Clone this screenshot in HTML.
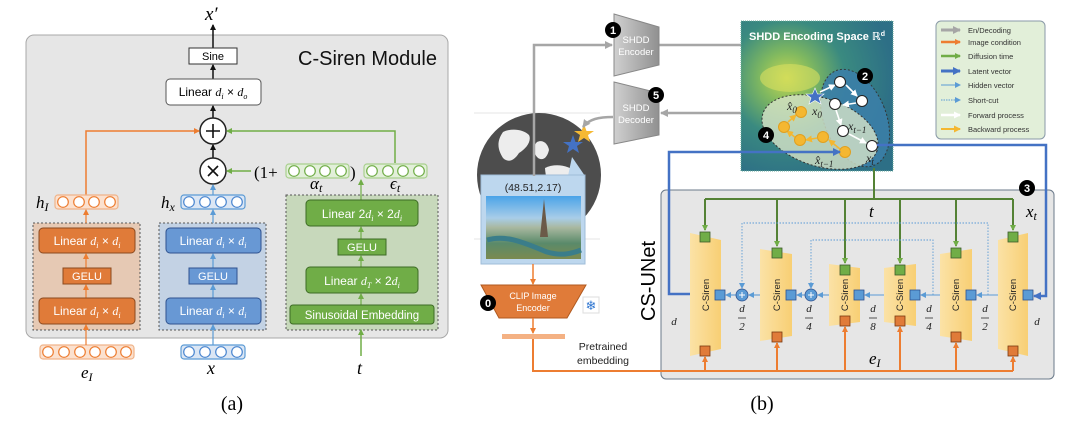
<!DOCTYPE html>
<html><head><meta charset="utf-8"><style>
html,body{margin:0;padding:0;background:#fff;}
svg{display:block;}
text{font-family:"Liberation Sans","DejaVu Sans",sans-serif;}
text.m,tspan.m{font-family:"Liberation Serif",serif;font-style:italic;}
text.s{font-family:"Liberation Serif",serif;}
.w{fill:#fff;}
</style></head><body>
<svg width="1080" height="422" viewBox="0 0 1080 422" xmlns="http://www.w3.org/2000/svg">
<defs>
<marker id="ak" markerWidth="6" markerHeight="6" refX="5" refY="3" orient="auto" markerUnits="userSpaceOnUse"><path d="M0,0L6,3L0,6z" fill="#111"/></marker>
<marker id="ao" markerWidth="6" markerHeight="6" refX="5" refY="3" orient="auto" markerUnits="userSpaceOnUse"><path d="M0,0L6,3L0,6z" fill="#ed7d31"/></marker>
<marker id="ag" markerWidth="6" markerHeight="6" refX="5" refY="3" orient="auto" markerUnits="userSpaceOnUse"><path d="M0,0L6,3L0,6z" fill="#70ad47"/></marker>
<marker id="ab" markerWidth="6" markerHeight="6" refX="5" refY="3" orient="auto" markerUnits="userSpaceOnUse"><path d="M0,0L6,3L0,6z" fill="#5b9bd5"/></marker>
<marker id="aB" markerWidth="8" markerHeight="8" refX="7" refY="4" orient="auto" markerUnits="userSpaceOnUse"><path d="M0,0L8,4L0,8z" fill="#4472c4"/></marker>
<marker id="ay" markerWidth="7" markerHeight="7" refX="6" refY="3.5" orient="auto" markerUnits="userSpaceOnUse"><path d="M0,0L7,3.5L0,7z" fill="#f4b731"/></marker>
<marker id="aw" markerWidth="7" markerHeight="7" refX="6" refY="3.5" orient="auto" markerUnits="userSpaceOnUse"><path d="M0,0L7,3.5L0,7z" fill="#fff"/></marker>
<marker id="aG" markerWidth="8" markerHeight="8" refX="7" refY="4" orient="auto" markerUnits="userSpaceOnUse"><path d="M0,0L8,4L0,8z" fill="#a6a6a6"/></marker>
<radialGradient id="hm" cx="0.3" cy="0.38" r="0.7">
<stop offset="0" stop-color="#c8d850"/><stop offset="0.25" stop-color="#7fb860"/><stop offset="0.55" stop-color="#3a8a80"/><stop offset="1" stop-color="#2d6f86"/></radialGradient>
<linearGradient id="tr" x1="0" x2="1"><stop offset="0" stop-color="#fbe2a6"/><stop offset="1" stop-color="#f8cf74"/></linearGradient>
<linearGradient id="gr" x1="0" x2="1"><stop offset="0" stop-color="#d0d0d0"/><stop offset="1" stop-color="#909090"/></linearGradient>
<linearGradient id="ph" x1="0" y1="0" x2="0" y2="1"><stop offset="0" stop-color="#4aa3e8"/><stop offset="0.35" stop-color="#a8cde8"/><stop offset="0.5" stop-color="#a9b8a0"/><stop offset="0.75" stop-color="#5a8a6a"/><stop offset="1" stop-color="#7b8a50"/></linearGradient>
</defs>

<!-- ============ (a) ============ -->
<rect x="26" y="35" width="422" height="303" rx="8" fill="#e6e6e6" stroke="#a8a8a8" stroke-width="1"/>
<text x="298" y="65" font-size="20" fill="#111">C-Siren Module</text>
<text x="205" y="20" font-size="19" class="m">x′</text>
<line x1="213" y1="48" x2="213" y2="25" stroke="#111" stroke-width="1.5" marker-end="url(#ak)"/>
<rect x="189" y="48" width="48" height="16" fill="#fff" stroke="#333"/>
<text x="213" y="60" font-size="11" text-anchor="middle">Sine</text>
<line x1="213" y1="79" x2="213" y2="65" stroke="#111" stroke-width="1.5" marker-end="url(#ak)"/>
<rect x="166" y="79" width="95" height="26" rx="4" fill="#fff" stroke="#555"/>
<text x="213" y="96" font-size="12" text-anchor="middle">Linear <tspan class="m">d</tspan><tspan class="m" font-size="8" dy="3">i</tspan><tspan dy="-3"> × </tspan><tspan class="m">d</tspan><tspan class="m" font-size="8" dy="3">o</tspan></text>
<line x1="213" y1="118" x2="213" y2="106" stroke="#111" stroke-width="1.5" marker-end="url(#ak)"/>
<circle cx="213" cy="131" r="13" fill="#fff" stroke="#222" stroke-width="1.5"/>
<path d="M206,131h14M213,124v14" stroke="#111" stroke-width="1.6"/>
<line x1="213" y1="158" x2="213" y2="145" stroke="#111" stroke-width="1.5" marker-end="url(#ak)"/>
<circle cx="213" cy="171" r="13" fill="#fff" stroke="#222" stroke-width="1.5"/>
<path d="M208,166l10,10M218,166l-10,10" stroke="#111" stroke-width="1.6"/>
<line x1="213" y1="195" x2="213" y2="185" stroke="#5b9bd5" stroke-width="1.2" marker-end="url(#ab)"/>
<line x1="251" y1="171" x2="227" y2="171" stroke="#70ad47" stroke-width="1.5" marker-end="url(#ag)"/>
<text x="254" y="178" font-size="17" class="s">(1+</text>
<text x="350" y="178" font-size="17" class="s">)</text>
<polyline points="86,195 86,131 199,131" fill="none" stroke="#ed7d31" stroke-width="1.5" marker-end="url(#ao)"/>
<polyline points="395,163 395,131 227,131" fill="none" stroke="#70ad47" stroke-width="1.5" marker-end="url(#ag)"/>
<g stroke-width="1.2">
<rect x="286" y="164" width="63" height="14" rx="3" fill="#e2efd9" stroke="#a9d08e"/>
<g fill="#fff" stroke="#70ad47"><circle cx="294" cy="171" r="5.3"/><circle cx="310" cy="171" r="5.3"/><circle cx="325" cy="171" r="5.3"/><circle cx="341" cy="171" r="5.3"/></g>
<rect x="364" y="164" width="63" height="14" rx="3" fill="#e2efd9" stroke="#a9d08e"/>
<g fill="#fff" stroke="#70ad47"><circle cx="372" cy="171" r="5.3"/><circle cx="388" cy="171" r="5.3"/><circle cx="403" cy="171" r="5.3"/><circle cx="419" cy="171" r="5.3"/></g>
<rect x="55" y="195" width="63" height="14" rx="3" fill="#fbe1cf" stroke="#f0b48a"/>
<g fill="#fff" stroke="#ed7d31"><circle cx="63" cy="202" r="5.3"/><circle cx="79" cy="202" r="5.3"/><circle cx="94" cy="202" r="5.3"/><circle cx="110" cy="202" r="5.3"/></g>
<rect x="181" y="195" width="64" height="14" rx="3" fill="#dbe6f4" stroke="#5b9bd5"/>
<g fill="#fff" stroke="#4a86d0"><circle cx="189" cy="202" r="5.3"/><circle cx="205" cy="202" r="5.3"/><circle cx="221" cy="202" r="5.3"/><circle cx="237" cy="202" r="5.3"/></g>
<rect x="40" y="345" width="94" height="14" rx="3" fill="#fbe1cf" stroke="#f0b48a"/>
<g fill="#fff" stroke="#ed7d31"><circle cx="48" cy="352" r="5.3"/><circle cx="64" cy="352" r="5.3"/><circle cx="80" cy="352" r="5.3"/><circle cx="95" cy="352" r="5.3"/><circle cx="111" cy="352" r="5.3"/><circle cx="126" cy="352" r="5.3"/></g>
<rect x="181" y="345" width="64" height="14" rx="3" fill="#dbe6f4" stroke="#5b9bd5"/>
<g fill="#fff" stroke="#4a86d0"><circle cx="189" cy="352" r="5.3"/><circle cx="205" cy="352" r="5.3"/><circle cx="221" cy="352" r="5.3"/><circle cx="237" cy="352" r="5.3"/></g>
</g>
<text x="310" y="189" font-size="17" class="m">α<tspan font-size="12" dy="3">t</tspan></text>
<text x="390" y="189" font-size="17" class="m">ϵ<tspan font-size="12" dy="3">t</tspan></text>
<text x="36" y="208" font-size="17" class="m">h<tspan font-size="12" dy="3">I</tspan></text>
<text x="161" y="208" font-size="17" class="m">h<tspan font-size="12" dy="3">x</tspan></text>
<rect x="33" y="223" width="107" height="107" fill="#e6c9b4" stroke="#555" stroke-dasharray="2,2"/>
<rect x="159" y="223" width="107" height="107" fill="#c3d2e4" stroke="#555" stroke-dasharray="2,2"/>
<rect x="286" y="195" width="152" height="135" fill="#c7d8bb" stroke="#555" stroke-dasharray="2,2"/>
<g stroke-width="1.2">
<line x1="86" y1="223" x2="86" y2="210" stroke="#ed7d31" marker-end="url(#ao)"/>
<line x1="86" y1="268" x2="86" y2="254" stroke="#ed7d31" marker-end="url(#ao)"/>
<line x1="86" y1="298" x2="86" y2="285" stroke="#ed7d31" marker-end="url(#ao)"/>
<line x1="86" y1="345" x2="86" y2="325" stroke="#ed7d31" marker-end="url(#ao)"/>
<line x1="213" y1="223" x2="213" y2="210" stroke="#5b9bd5" marker-end="url(#ab)"/>
<line x1="213" y1="268" x2="213" y2="254" stroke="#5b9bd5" marker-end="url(#ab)"/>
<line x1="213" y1="298" x2="213" y2="285" stroke="#5b9bd5" marker-end="url(#ab)"/>
<line x1="213" y1="345" x2="213" y2="325" stroke="#5b9bd5" marker-end="url(#ab)"/>
<line x1="361" y1="200" x2="361" y2="180" stroke="#70ad47" marker-end="url(#ag)"/>
<line x1="361" y1="239" x2="361" y2="227" stroke="#70ad47" marker-end="url(#ag)"/>
<line x1="361" y1="267" x2="361" y2="256" stroke="#70ad47" marker-end="url(#ag)"/>
<line x1="361" y1="305" x2="361" y2="294" stroke="#70ad47" marker-end="url(#ag)"/>
<line x1="361" y1="356" x2="361" y2="330" stroke="#70ad47" stroke-width="1.5" marker-end="url(#ag)"/>
</g>
<rect x="39" y="228" width="96" height="25" rx="4" fill="#e07b39" stroke="#8b4a20"/>
<text x="87" y="245" font-size="12" text-anchor="middle" class="w">Linear <tspan class="m">d</tspan><tspan class="m" font-size="8" dy="3">i</tspan><tspan dy="-3"> × </tspan><tspan class="m">d</tspan><tspan class="m" font-size="8" dy="3">i</tspan></text>
<rect x="63" y="268" width="48" height="16" fill="#e07b39" stroke="#8b4a20"/>
<text x="87" y="280" font-size="11" text-anchor="middle" class="w">GELU</text>
<rect x="39" y="298" width="96" height="26" rx="4" fill="#e07b39" stroke="#8b4a20"/>
<text x="87" y="315" font-size="12" text-anchor="middle" class="w">Linear <tspan class="m">d</tspan><tspan class="m" font-size="8" dy="3">I</tspan><tspan dy="-3"> × </tspan><tspan class="m">d</tspan><tspan class="m" font-size="8" dy="3">i</tspan></text>
<rect x="166" y="228" width="95" height="25" rx="4" fill="#6898d4" stroke="#2f528f"/>
<text x="213" y="245" font-size="12" text-anchor="middle" class="w">Linear <tspan class="m">d</tspan><tspan class="m" font-size="8" dy="3">i</tspan><tspan dy="-3"> × </tspan><tspan class="m">d</tspan><tspan class="m" font-size="8" dy="3">i</tspan></text>
<rect x="189" y="268" width="48" height="16" fill="#6898d4" stroke="#2f528f"/>
<text x="213" y="280" font-size="11" text-anchor="middle" class="w">GELU</text>
<rect x="166" y="298" width="95" height="26" rx="4" fill="#6898d4" stroke="#2f528f"/>
<text x="213" y="315" font-size="12" text-anchor="middle" class="w">Linear <tspan class="m">d</tspan><tspan class="m" font-size="8" dy="3">i</tspan><tspan dy="-3"> × </tspan><tspan class="m">d</tspan><tspan class="m" font-size="8" dy="3">i</tspan></text>
<rect x="306" y="200" width="112" height="26" rx="4" fill="#70ad47" stroke="#3d6b25"/>
<text x="362" y="218" font-size="12" text-anchor="middle" class="w">Linear 2<tspan class="m">d</tspan><tspan class="m" font-size="8" dy="3">i</tspan><tspan dy="-3"> × 2</tspan><tspan class="m">d</tspan><tspan class="m" font-size="8" dy="3">i</tspan></text>
<rect x="338" y="239" width="48" height="16" fill="#70ad47" stroke="#3d6b25"/>
<text x="362" y="251" font-size="11" text-anchor="middle" class="w">GELU</text>
<rect x="306" y="267" width="112" height="26" rx="4" fill="#70ad47" stroke="#3d6b25"/>
<text x="362" y="285" font-size="12" text-anchor="middle" class="w">Linear <tspan class="m">d</tspan><tspan class="m" font-size="8" dy="3">T</tspan><tspan dy="-3"> × 2</tspan><tspan class="m">d</tspan><tspan class="m" font-size="8" dy="3">i</tspan></text>
<rect x="290" y="305" width="144" height="19" rx="3" fill="#70ad47" stroke="#3d6b25"/>
<text x="362" y="319" font-size="11.5" text-anchor="middle" class="w">Sinusoidal Embedding</text>
<text x="81" y="378" font-size="17" class="m">e<tspan font-size="12" dy="3">I</tspan></text>
<text x="207" y="374" font-size="18" class="m">x</text>
<text x="357" y="374" font-size="18" class="m">t</text>
<text x="232" y="410" font-size="20" text-anchor="middle" class="s">(a)</text>

<!-- ============ (b) ============ -->
<line x1="474" y1="113" x2="600" y2="113" stroke="#ddd" stroke-width="0.8"/>
<line x1="474" y1="239" x2="600" y2="239" stroke="#ddd" stroke-width="0.8"/>
<circle cx="539" cy="175" r="62" fill="#4d4d4d"/>
<path d="M503,132c8,-4 20,-3 26,3c3,6 -3,14 -10,18c-5,8 -11,10 -16,5c-5,-8 -7,-16 0,-26z" fill="#fff" opacity="0.9"/>
<path d="M537,142c6,-3 11,2 12,8c-2,8 -6,11 -11,8c-5,-5 -6,-11 -1,-16z" fill="#fff" opacity="0.9"/>
<path d="M483,178c6,-3 11,8 8,18c-5,5 -10,0 -10,-8z" fill="#fff" opacity="0.9"/>
<path d="M545,168c10,-5 24,-3 32,5c5,8 0,19 -10,24c-11,-2 -21,-10 -22,-29z" fill="#fff" opacity="0.9"/>
<polygon points="584,124 586.5,131 594,131 588,135 590,142 584,138 578,142 580,135 574,131 581.5,131" fill="#f5b933"/>
<polygon points="573,135 575.5,142 583,142 577,146 579,153 573,149 567,153 569,146 563,142 570.5,142" fill="#4472c4"/>
<polygon points="568,176 572,157 585,176" fill="#bdd7ee"/>
<rect x="481" y="175" width="104" height="89" fill="#bdd7ee" stroke="#9fbcd8"/>
<text x="533" y="191" font-size="10.5" text-anchor="middle" fill="#222">(48.51,2.17)</text>
<rect x="486" y="196" width="95" height="63" fill="url(#ph)"/>
<path d="M487,240c20,-6 40,4 60,12c14,4 24,2 34,-2" stroke="#3a7d8a" stroke-width="5" fill="none"/>
<path d="M544,199l-4,38h8z" fill="#6b5a48"/>
<polyline points="534,176 534,45 612,45" fill="none" stroke="#a6a6a6" stroke-width="2.5" marker-end="url(#aG)"/>
<polyline points="659,45 816,45 816,90" fill="none" stroke="#a6a6a6" stroke-width="2.5" marker-end="url(#aG)"/>
<line x1="800" y1="113" x2="661" y2="113" stroke="#a6a6a6" stroke-width="2.5" marker-end="url(#aG)"/>
<path d="M613,117c-14,0 -24,2 -30,10" fill="none" stroke="#a6a6a6" stroke-width="2.5" marker-end="url(#aG)"/>
<polygon points="614,14 659,27 659,65 614,76" fill="url(#gr)" stroke="#888"/>
<text x="636" y="43" font-size="9.5" text-anchor="middle" class="w">SHDD</text>
<text x="636" y="55" font-size="9.5" text-anchor="middle" class="w">Encoder</text>
<polygon points="614,82 659,93 659,135 614,144" fill="url(#gr)" stroke="#888"/>
<text x="636" y="111" font-size="9.5" text-anchor="middle" class="w">SHDD</text>
<text x="636" y="123" font-size="9.5" text-anchor="middle" class="w">Decoder</text>
<circle cx="613" cy="30" r="8" fill="#000"/><text x="613" y="34" font-size="11" font-weight="bold" text-anchor="middle" class="w">1</text>
<circle cx="656" cy="95" r="8" fill="#000"/><text x="656" y="99" font-size="11" font-weight="bold" text-anchor="middle" class="w">5</text>
<rect x="741" y="21" width="152" height="150" fill="url(#hm)" stroke="#6a9" stroke-dasharray="1,1"/>
<ellipse cx="790" cy="78" rx="30" ry="14" fill="#d8e060" opacity="0.6"/>
<text x="817" y="40" font-size="11" font-weight="bold" text-anchor="middle" class="w">SHDD Encoding Space ℝ<tspan font-size="7" dy="-4">d</tspan></text>
<ellipse cx="855" cy="118" rx="31" ry="51" transform="rotate(-22 855 118)" fill="#3b7fa8" stroke="#333" stroke-dasharray="2,2" opacity="0.9"/>
<ellipse cx="820" cy="132" rx="60" ry="34" transform="rotate(18 820 132)" fill="#d7e4c8" fill-opacity="0.8" stroke="#333" stroke-dasharray="2,2"/>
<g stroke="#fff" stroke-width="1.6">
<line x1="820" y1="92" x2="835" y2="85" marker-end="url(#aw)"/>
<line x1="846" y1="85" x2="857" y2="96" marker-end="url(#aw)"/>
<line x1="856" y1="103" x2="843" y2="105" marker-end="url(#aw)"/>
<line x1="836" y1="110" x2="841" y2="125" marker-end="url(#aw)"/>
<line x1="849" y1="134" x2="866" y2="143" marker-end="url(#aw)"/>
</g>
<g stroke="#f4b731" stroke-width="1.6">
<line x1="840" y1="149" x2="829" y2="140" marker-end="url(#ay)"/>
<line x1="817" y1="138" x2="806" y2="140" marker-end="url(#ay)"/>
<line x1="796" y1="138" x2="787" y2="131" marker-end="url(#ay)"/>
<line x1="788" y1="122" x2="796" y2="115" marker-end="url(#ay)"/>
</g>
<g fill="#fff" stroke="#222" stroke-width="1"><circle cx="840" cy="82" r="5.5"/><circle cx="862" cy="101" r="5.5"/><circle cx="835" cy="104" r="5.5"/><circle cx="843" cy="131" r="5.5"/><circle cx="872" cy="146" r="5.5"/></g>
<g fill="#f4b731" stroke="#e0a020"><circle cx="801" cy="112" r="5.5"/><circle cx="784" cy="127" r="5.5"/><circle cx="800" cy="140" r="5.5"/><circle cx="823" cy="137" r="5.5"/><circle cx="845" cy="152" r="5.5"/></g>
<polygon points="815,88 817.5,94 824,94 819,98 821,104 815,100.5 809,104 811,98 806,94 812.5,94" fill="#4472c4" stroke="#fff" stroke-width="0.6"/>
<text x="787" y="110" font-size="12" class="m" fill="#222">x̂<tspan font-size="9" dy="3">0</tspan></text>
<text x="812" y="115" font-size="12" class="m" fill="#222">x<tspan font-size="9" dy="3">0</tspan></text>
<text x="848" y="130" font-size="12" class="m" fill="#222">x<tspan font-size="9" dy="3">t−1</tspan></text>
<text x="866" y="162" font-size="12" class="m" fill="#222">x<tspan font-size="9" dy="3">t</tspan></text>
<text x="815" y="164" font-size="12" class="m" fill="#222">x̂<tspan font-size="9" dy="3">t−1</tspan></text>
<circle cx="865" cy="76" r="8" fill="#000"/><text x="865" y="80" font-size="11" font-weight="bold" text-anchor="middle" class="w">2</text>
<circle cx="766" cy="135" r="8" fill="#000"/><text x="766" y="139" font-size="11" font-weight="bold" text-anchor="middle" class="w">4</text>
<rect x="936" y="21" width="109" height="118" rx="5" fill="#e2efd9" stroke="#8a9aa8"/>
<g stroke-width="2">
<line x1="941" y1="30" x2="960" y2="30" stroke="#a6a6a6" stroke-width="3" marker-end="url(#aG)"/>
<line x1="941" y1="42" x2="960" y2="42" stroke="#ed7d31" stroke-width="2.5" marker-end="url(#ao)"/>
<line x1="941" y1="56" x2="960" y2="56" stroke="#70ad47" stroke-width="2.5" marker-end="url(#ag)"/>
<line x1="941" y1="71" x2="960" y2="71" stroke="#4472c4" stroke-width="3" marker-end="url(#aB)"/>
<line x1="941" y1="85" x2="960" y2="85" stroke="#5b9bd5" stroke-width="1" marker-end="url(#ab)"/>
<line x1="941" y1="100" x2="960" y2="100" stroke="#5b9bd5" stroke-width="1" stroke-dasharray="1.5,1" marker-end="url(#ab)"/>
<line x1="941" y1="115" x2="960" y2="115" stroke="#fff" stroke-width="2.5" marker-end="url(#aw)"/>
<line x1="941" y1="129" x2="960" y2="129" stroke="#f4b731" stroke-width="2" marker-end="url(#ay)"/>
</g>
<g font-size="7.5" fill="#333">
<text x="968" y="33">En/Decoding</text><text x="968" y="45">Image condition</text><text x="968" y="59">Diffusion time</text><text x="968" y="74">Latent vector</text><text x="968" y="88">Hidden vector</text><text x="968" y="103">Short-cut</text><text x="968" y="118">Forward process</text><text x="968" y="132">Backward process</text>
</g>
<line x1="533" y1="264" x2="533" y2="284" stroke="#ed7d31" stroke-width="1.5" marker-end="url(#ao)"/>
<polygon points="481,285 586,285 567,318 499,318" fill="#e07b39" stroke="#b05a20"/>
<text x="533" y="299" font-size="9" text-anchor="middle" class="w">CLIP Image</text>
<text x="533" y="311" font-size="9" text-anchor="middle" class="w">Encoder</text>
<circle cx="488" cy="303" r="8" fill="#000"/><text x="488" y="307" font-size="11" font-weight="bold" text-anchor="middle" class="w">0</text>
<rect x="583" y="297" width="16" height="16" fill="#fff" stroke="#ddd"/>
<text x="591" y="310" font-size="13" text-anchor="middle" fill="#2e75d0">❄</text>
<line x1="533" y1="318" x2="533" y2="333" stroke="#ed7d31" stroke-width="1.5" marker-end="url(#ao)"/>
<rect x="502" y="334" width="63" height="5" fill="#f4b183"/>
<text x="603" y="350" font-size="10.5" text-anchor="middle" fill="#222">Pretrained</text>
<text x="603" y="364" font-size="10.5" text-anchor="middle" fill="#222">embedding</text>
<rect x="661" y="190" width="393" height="189" rx="5" fill="#e6e6e6" stroke="#6b7a8a"/>
<text x="0" y="0" font-size="20" text-anchor="middle" transform="translate(655,281) rotate(-90)">CS-UNet</text>
<circle cx="1027" cy="188" r="8" fill="#000"/><text x="1027" y="192" font-size="11" font-weight="bold" text-anchor="middle" class="w">3</text>
<polyline points="877,145 1046,145 1046,296 1034,296" fill="none" stroke="#4472c4" stroke-width="2.5" marker-end="url(#aB)"/>
<polyline points="690,294 669,294 669,152 840,152" fill="none" stroke="#4472c4" stroke-width="2.5" marker-end="url(#aB)"/>
<line x1="874" y1="168" x2="874" y2="199" stroke="#548235" stroke-width="2"/>
<line x1="705" y1="199" x2="1013" y2="199" stroke="#548235" stroke-width="2"/>
<g stroke="#548235" stroke-width="2">
<line x1="705" y1="199" x2="705" y2="230" marker-end="url(#ag)"/>
<line x1="777" y1="199" x2="777" y2="246" marker-end="url(#ag)"/>
<line x1="845" y1="199" x2="845" y2="263" marker-end="url(#ag)"/>
<line x1="900" y1="199" x2="900" y2="263" marker-end="url(#ag)"/>
<line x1="956" y1="199" x2="956" y2="246" marker-end="url(#ag)"/>
<line x1="1013" y1="199" x2="1013" y2="230" marker-end="url(#ag)"/>
</g>
<polyline points="988,295 988,223 742,223 742,288" fill="none" stroke="#5b9bd5" stroke-width="0.9" stroke-dasharray="1.5,1.5" marker-end="url(#ab)"/>
<polyline points="933,295 933,240 811,240 811,288" fill="none" stroke="#5b9bd5" stroke-width="0.9" stroke-dasharray="1.5,1.5" marker-end="url(#ab)"/>
<polygon points="690,233 721,240 721,349 690,356" fill="url(#tr)"/>
<polygon points="760,249 792,254 792,336 760,341" fill="url(#tr)"/>
<polygon points="829,264 860,268 860,322 829,326" fill="url(#tr)"/>
<polygon points="884,268 916,264 916,326 884,322" fill="url(#tr)"/>
<polygon points="940,254 972,249 972,341 940,336" fill="url(#tr)"/>
<polygon points="998,240 1028,233 1028,356 998,349" fill="url(#tr)"/>
<g font-size="9.5" fill="#222" text-anchor="middle">
<text transform="translate(709,295) rotate(-90)">C-Siren</text>
<text transform="translate(780,295) rotate(-90)">C-Siren</text>
<text transform="translate(848,295) rotate(-90)">C-Siren</text>
<text transform="translate(903,295) rotate(-90)">C-Siren</text>
<text transform="translate(959,295) rotate(-90)">C-Siren</text>
<text transform="translate(1016,295) rotate(-90)">C-Siren</text>
</g>
<g stroke="#5b9bd5" stroke-width="1.1">
<line x1="998" y1="295" x2="977" y2="295" marker-end="url(#ab)"/>
<line x1="940" y1="295" x2="921" y2="295" marker-end="url(#ab)"/>
<line x1="884" y1="295" x2="865" y2="295" marker-end="url(#ab)"/>
<line x1="829" y1="295" x2="818" y2="295" marker-end="url(#ab)"/>
<line x1="805" y1="295" x2="797" y2="295" marker-end="url(#ab)"/>
<line x1="760" y1="295" x2="749" y2="295" marker-end="url(#ab)"/>
<line x1="736" y1="295" x2="726" y2="295" marker-end="url(#ab)"/>
</g>
<g fill="#5b9bd5" stroke="#2f528f" stroke-width="0.8">
<circle cx="742" cy="295" r="6"/><circle cx="811" cy="295" r="6"/>
</g>
<g stroke="#fff" stroke-width="1"><path d="M739,295h6M742,292v6M808,295h6M811,292v6"/></g>
<g stroke="#3d5a2a" stroke-width="0.8" fill="#70ad47">
<rect x="700" y="232" width="10" height="10"/><rect x="772" y="248" width="10" height="10"/><rect x="840" y="265" width="10" height="10"/><rect x="895" y="265" width="10" height="10"/><rect x="951" y="248" width="10" height="10"/><rect x="1008" y="232" width="10" height="10"/>
</g>
<g stroke="#2f528f" stroke-width="0.8" fill="#5b9bd5">
<rect x="715" y="290" width="10" height="10"/><rect x="786" y="290" width="10" height="10"/><rect x="854" y="290" width="10" height="10"/><rect x="910" y="290" width="10" height="10"/><rect x="966" y="290" width="10" height="10"/><rect x="1023" y="290" width="10" height="10"/>
</g>
<g stroke="#7a3a10" stroke-width="0.8" fill="#e07b39">
<rect x="700" y="346" width="10" height="10"/><rect x="772" y="332" width="10" height="10"/><rect x="840" y="316" width="10" height="10"/><rect x="895" y="316" width="10" height="10"/><rect x="951" y="332" width="10" height="10"/><rect x="1008" y="346" width="10" height="10"/>
</g>
<polyline points="533,339 533,371 1013,371" fill="none" stroke="#ed7d31" stroke-width="2"/>
<g stroke="#ed7d31" stroke-width="2">
<line x1="705" y1="371" x2="705" y2="357" marker-end="url(#ao)"/>
<line x1="777" y1="371" x2="777" y2="343" marker-end="url(#ao)"/>
<line x1="845" y1="371" x2="845" y2="327" marker-end="url(#ao)"/>
<line x1="900" y1="371" x2="900" y2="327" marker-end="url(#ao)"/>
<line x1="956" y1="371" x2="956" y2="343" marker-end="url(#ao)"/>
<line x1="1013" y1="371" x2="1013" y2="357" marker-end="url(#ao)"/>
</g>
<g fill="#222" font-size="11" text-anchor="middle">
<text class="m" x="674" y="325">d</text><text class="m" x="1037" y="325">d</text>
<text class="m" x="742" y="312">d</text><text class="m" x="742" y="330">2</text>
<text class="m" x="809" y="312">d</text><text class="m" x="809" y="330">4</text>
<text class="m" x="873" y="312">d</text><text class="m" x="873" y="330">8</text>
<text class="m" x="929" y="312">d</text><text class="m" x="929" y="330">4</text>
<text class="m" x="985" y="312">d</text><text class="m" x="985" y="330">2</text>
</g>
<g stroke="#222" stroke-width="0.7"><path d="M738,318h8M805,318h8M869,318h8M925,318h8M981,318h8"/></g>
<text x="869" y="217" font-size="17" class="m">t</text>
<text x="1026" y="217" font-size="17" class="m">x<tspan font-size="12" dy="3">t</tspan></text>
<text x="869" y="364" font-size="17" class="m">e<tspan font-size="12" dy="3">I</tspan></text>
<text x="762" y="410" font-size="20" text-anchor="middle" class="s">(b)</text>
</svg>
</body></html>
